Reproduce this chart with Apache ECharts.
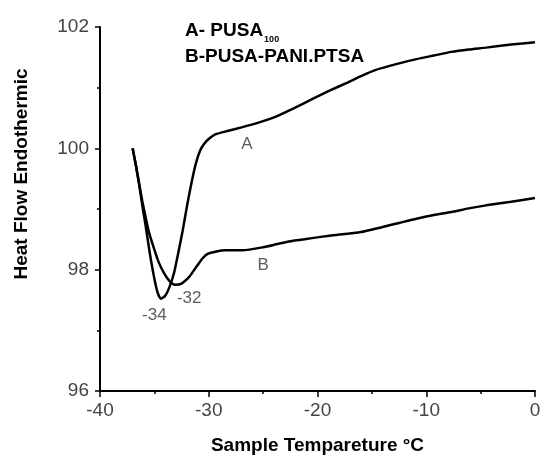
<!DOCTYPE html>
<html><head><meta charset="utf-8">
<script src="https://cdn.jsdelivr.net/npm/echarts@6/dist/echarts.min.js"></script>
<style>html,body{margin:0;padding:0;background:#fff}#c{width:544px;height:457px}</style>
</head><body><div id="c"></div>
<script>
var xTicks = [-40, -30, -20, -10, 0];
var yTicks = [96, 98, 100, 102];
var curveA = [[-37,100],[-36.7,99.72],[-36.4,99.4],[-36.1,99.05],[-35.8,98.72],[-35.4,98.25],[-35.0,97.85],[-34.7,97.62],[-34.4,97.52],[-34.0,97.57],[-33.6,97.72],[-33.2,97.94],[-32.8,98.28],[-32.4,98.64],[-32.0,99.05],[-31.6,99.42],[-31.2,99.74],[-30.8,99.96],[-30.4,100.08],[-29.9,100.17],[-29.4,100.23],[-28.2,100.29],[-26.9,100.35],[-25.5,100.42],[-24,100.51],[-22.2,100.66],[-20.5,100.81],[-18.9,100.95],[-17.3,101.08],[-16,101.19],[-14.7,101.29],[-12.5,101.40],[-10.9,101.47],[-9.3,101.53],[-7.7,101.59],[-6.1,101.63],[-4.5,101.66],[-2.2,101.71],[0,101.75]];
var curveB = [[-37,100],[-36.7,99.72],[-36.4,99.42],[-36.1,99.12],[-35.8,98.86],[-35.5,98.62],[-35.0,98.33],[-34.6,98.12],[-34.1,97.94],[-33.6,97.81],[-33.1,97.75],[-32.5,97.77],[-31.8,97.88],[-31.4,97.98],[-31.0,98.08],[-30.6,98.18],[-30.1,98.26],[-29.3,98.30],[-28.5,98.32],[-26.9,98.32],[-25,98.37],[-23.5,98.43],[-22.1,98.48],[-20.5,98.52],[-18.9,98.56],[-16,98.62],[-14.1,98.70],[-12.5,98.77],[-10.9,98.84],[-9.3,98.90],[-7.7,98.95],[-6.1,99.01],[-4.5,99.06],[-2.2,99.12],[0,99.18]];
var annotations = [
  {text:'A', pos:[-26.5,100.07]},
  {text:'B', pos:[-25,98.07]},
  {text:'-34', pos:[-35,97.25]},
  {text:'-32', pos:[-31.8,97.52]}
];
var legendLines = ['A- PUSA{sub|100}', 'B-PUSA-PANI.PTSA'];
var xName = 'Sample Tempareture °C';
var yName = 'Heat Flow Endothermic';

var FONT = 'Liberation Sans, Arial, sans-serif';
var chart = echarts.init(document.getElementById('c'), null, {renderer:'canvas'});
var lineStyle = {color:'#000', width:2.5};
chart.setOption({
  backgroundColor:'#fff',
  animation:false,
  grid:{left:100, right:9, top:27, bottom:66, containLabel:false, outerBoundsMode:'none'},
  title:{
    left:180, top:13,
    text: legendLines.join('\n'),
    textStyle:{fontFamily:FONT, fontWeight:'bold', fontSize:19, color:'#000', lineHeight:26,
      rich:{sub:{fontFamily:FONT, fontWeight:'bold', fontSize:9, color:'#000', verticalAlign:'bottom', padding:[10,0,0,1]}}}
  },
  graphic:[{
    type:'text', x:22, y:174, rotation:Math.PI/2,
    style:{text:yName, fontFamily:FONT, fontWeight:'bold', fontSize:19, fill:'#000', align:'center', verticalAlign:'middle'}
  }],
  xAxis:{
    type:'value', min:xTicks[0], max:xTicks[xTicks.length-1], interval:10,
    name:xName, nameLocation:'middle', nameGap:45,
    nameTextStyle:{fontFamily:FONT, fontWeight:'bold', fontSize:19, color:'#000'},
    axisLine:{show:true, onZero:false, lineStyle:{color:'#000', width:2}},
    axisTick:{show:true, inside:false, length:6, lineStyle:{color:'#000', width:1.5}},
    minorTick:{show:true, splitNumber:2, length:3, lineStyle:{color:'#000', width:1.5}},
    splitLine:{show:false},
    axisLabel:{fontFamily:FONT, fontSize:19, color:'#444', margin:10}
  },
  yAxis:{
    type:'value', min:yTicks[0], max:yTicks[yTicks.length-1], interval:2,
    axisLine:{show:true, onZero:false, lineStyle:{color:'#000', width:2}},
    axisTick:{show:true, inside:false, length:5, lineStyle:{color:'#000', width:1.5}},
    minorTick:{show:true, splitNumber:2, length:3, lineStyle:{color:'#000', width:1.5}},
    splitLine:{show:false},
    axisLabel:{fontFamily:FONT, fontSize:19, color:'#444', margin:11}
  },
  series:[
    {type:'line', name:'A', data:curveA, smooth:0.2, showSymbol:false, lineStyle:lineStyle, z:3},
    {type:'line', name:'B', data:curveB, smooth:0.2, showSymbol:false, lineStyle:lineStyle, z:3},
    {type:'scatter', data:annotations.map(function(a){return {value:a.pos, name:a.text};}),
      symbolSize:0, silent:true,
      label:{show:true, position:'inside', formatter:'{b}', fontFamily:FONT, fontSize:17, color:'#333'}}
  ]
});
</script></body></html>
